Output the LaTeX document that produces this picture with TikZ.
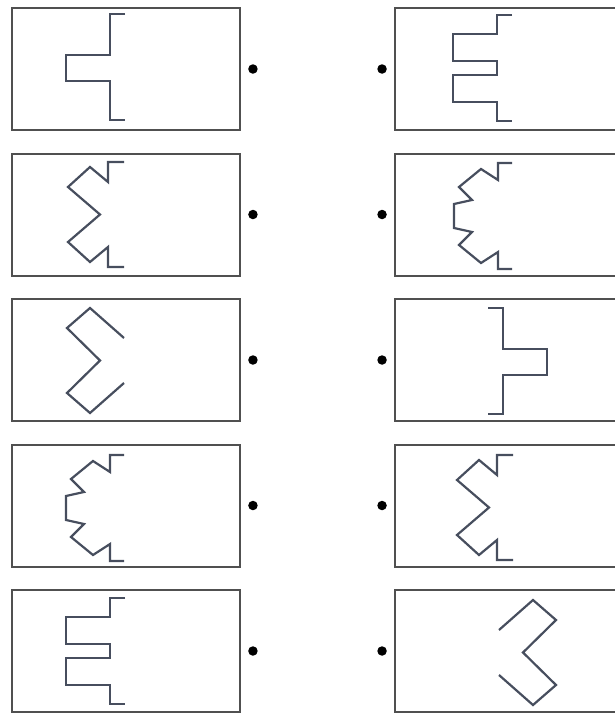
\documentclass[tikz,border=0pt]{standalone}
\usepackage{xcolor}
\usepackage{tikz}
\usetikzlibrary{positioning}
\definecolor{FrameGray} {HTML}{505050}
\definecolor{CurveSlate}{HTML}{474E5E}

\tikzset{
  card/.style={draw=FrameGray,line width=2pt,minimum width=228pt,
               minimum height=122pt,inner sep=0pt},
  pin/.style={circle,fill=black,minimum size=9.5pt,inner sep=0pt},
  curve/.style={draw=CurveSlate,line width=2.2pt},
  % one square bump
  pics/tee/.style={code={
    \draw[curve] (15,0)--(0,0)--(0,41)--(-44,41)--(-44,67)--(0,67)--(0,106)--(15,106);}},
  % two square bumps
  pics/comb/.style={code={
    \draw[curve] (15,0)--(0,0)--(0,19)--(-44,19)--(-44,46)--(0,46)--(0,60)
      --(-44,60)--(-44,87)--(0,87)--(0,106)--(15,106);}},
  % slanted zigzag
  pics/zig/.style={code={
    \draw[curve] (16,0)--(0,0)--(0,20)--(-18,5)--(-40,25)--(-8,52.5)--(-40,80)
      --(-18,100)--(0,85)--(0,105)--(16,105);}},
  % zigzag with a square notch
  pics/koch/.style={code={
    \draw[curve] (14,0)--(0,0)--(0,17)--(-17,6)--(-39,24)--(-26,37)--(-44,41)
      --(-44,65)--(-26,69)--(-39,82)--(-17,100)--(0,89)--(0,106)--(14,106);}},
  % open sigma
  pics/sigma/.style={code={
    \draw[curve] (24,30)--(-10,0)--(-33,20)--(0,52.5)--(-33,85)--(-10,105)--(24,75);}}
}

\begin{document}
\begin{tikzpicture}[x=1pt,y=-1pt]
  \useasboundingbox (0,0) rectangle (615,715);
  \clip (0,0) rectangle (615,715);

  % boxes and pins
  \foreach \r/\top in {1/8,2/153.5,3/299,4/444.5,5/590}{
    \node[card] (L\r) at (126,\top+61) {};
    \node[card,minimum width=240pt] (R\r) at (515,\top+61) {};
    \node[pin,right=7pt of L\r] (dL\r) {};
    \node[pin,left=7pt of R\r] (dR\r) {};
  }

  % figures, left column
  \pic at (110,14)  {tee};
  \pic at (108,162) {zig};
  \pic at (100,308) {sigma};
  \pic at (110,455) {koch};
  \pic at (110,598) {comb};

  % figures, right column
  \pic at (497,15)  {comb};
  \pic at (498,163) {koch};
  \pic[xscale=-1] at (503,308) {tee};
  \pic at (497,455) {zig};
  \pic[xscale=-1] at (523,600) {sigma};
\end{tikzpicture}
\end{document}
